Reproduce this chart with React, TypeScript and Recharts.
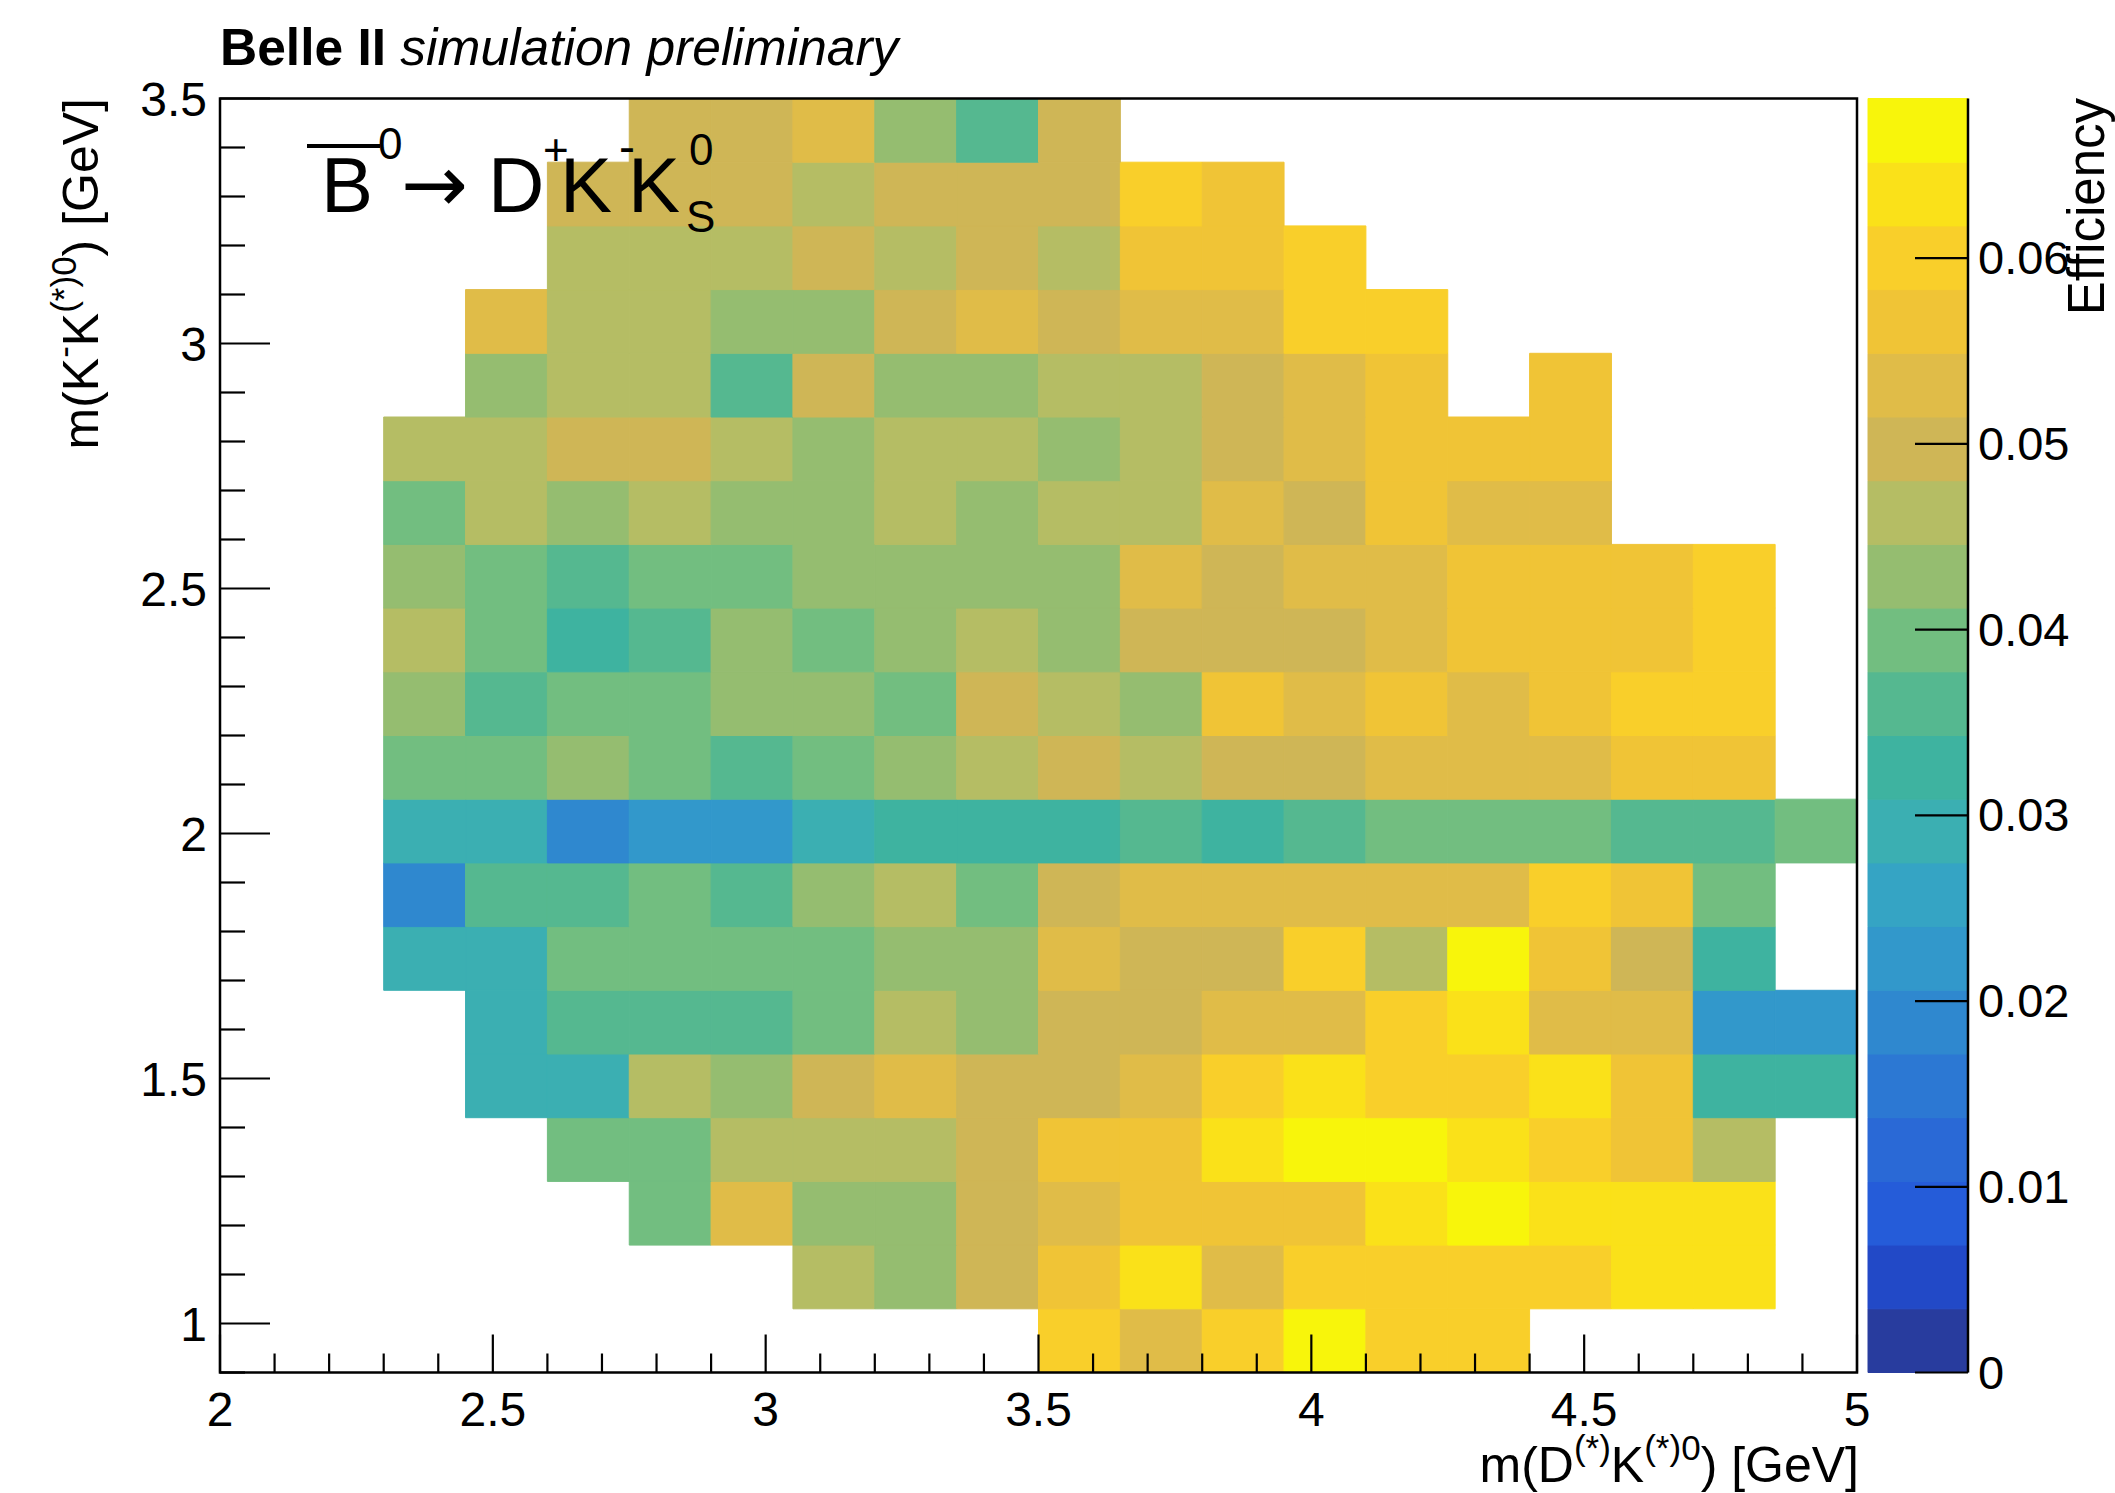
import { ComposedChart, XAxis, YAxis, ReferenceArea, Scatter } from "recharts";

const W = 2115;
const H = 1493;
const FONT = '"Liberation Sans", Arial, Helvetica, sans-serif';

// binning of the 2D histogram
const xBinLow = [2.0, 2.15, 2.3, 2.45, 2.6, 2.75, 2.9, 3.05, 3.2, 3.35, 3.5, 3.65, 3.8, 3.95, 4.1, 4.25, 4.4, 4.55, 4.7, 4.85];
const xBinWidth = 0.15;
const yBinLow = [0.9, 1.03, 1.16, 1.29, 1.42, 1.55, 1.68, 1.81, 1.94, 2.07, 2.2, 2.33, 2.46, 2.59, 2.72, 2.85, 2.98, 3.11, 3.24, 3.37];
const yBinHeight = 0.13;

const xMajorTicks = [2, 2.5, 3, 3.5, 4, 4.5, 5];
const yMajorTicks = [1, 1.5, 2, 2.5, 3, 3.5];
const zTicks = [0, 0.01, 0.02, 0.03, 0.04, 0.05, 0.06];
const zMax = 0.0686;

// efficiency per bin, one array per m(K-K(*)0) row (bottom to top), null = empty bin
const n = null;
const eff090 = [n, n, n, n, n, n, n, n, n, n, 0.06, 0.0532, 0.06, 0.0669, 0.06, 0.06, n, n, n, n];
const eff103 = [n, n, n, n, n, n, n, 0.0463, 0.0429, 0.0497, 0.0566, 0.0635, 0.0532, 0.06, 0.06, 0.06, 0.06, 0.0635, 0.0635, n];
const eff116 = [n, n, n, n, n, 0.0395, 0.0532, 0.0429, 0.0429, 0.0497, 0.0532, 0.0566, 0.0566, 0.0566, 0.0635, 0.0669, 0.0635, 0.0635, 0.0635, n];
const eff129 = [n, n, n, n, 0.0395, 0.0395, 0.0463, 0.0463, 0.0463, 0.0497, 0.0566, 0.0566, 0.0635, 0.0669, 0.0669, 0.0635, 0.06, 0.0566, 0.0463, n];
const eff142 = [n, n, n, 0.0292, 0.0292, 0.0463, 0.0429, 0.0497, 0.0532, 0.0497, 0.0497, 0.0532, 0.06, 0.0635, 0.06, 0.06, 0.0635, 0.0566, 0.0326, 0.0326];
const eff155 = [n, n, n, 0.0292, 0.036, 0.036, 0.036, 0.0395, 0.0463, 0.0429, 0.0497, 0.0497, 0.0532, 0.0532, 0.06, 0.0635, 0.0532, 0.0532, 0.0223, 0.0223];
const eff168 = [n, n, 0.0292, 0.0292, 0.0395, 0.0395, 0.0395, 0.0395, 0.0429, 0.0429, 0.0532, 0.0497, 0.0497, 0.06, 0.0463, 0.0669, 0.0566, 0.0497, 0.0326, n];
const eff181 = [n, n, 0.0189, 0.036, 0.036, 0.0395, 0.036, 0.0429, 0.0463, 0.0395, 0.0497, 0.0532, 0.0532, 0.0532, 0.0532, 0.0532, 0.06, 0.0566, 0.0395, n];
const eff194 = [n, n, 0.0292, 0.0292, 0.0189, 0.0223, 0.0223, 0.0292, 0.0326, 0.0326, 0.0326, 0.036, 0.0326, 0.036, 0.0395, 0.0395, 0.0395, 0.036, 0.036, 0.0395];
const eff207 = [n, n, 0.0395, 0.0395, 0.0429, 0.0395, 0.036, 0.0395, 0.0429, 0.0463, 0.0497, 0.0463, 0.0497, 0.0497, 0.0532, 0.0532, 0.0532, 0.0566, 0.0566, n];
const eff220 = [n, n, 0.0429, 0.036, 0.0395, 0.0395, 0.0429, 0.0429, 0.0395, 0.0497, 0.0463, 0.0429, 0.0566, 0.0532, 0.0566, 0.0532, 0.0566, 0.06, 0.06, n];
const eff233 = [n, n, 0.0463, 0.0395, 0.0326, 0.036, 0.0429, 0.0395, 0.0429, 0.0463, 0.0429, 0.0497, 0.0497, 0.0497, 0.0532, 0.0566, 0.0566, 0.0566, 0.06, n];
const eff246 = [n, n, 0.0429, 0.0395, 0.036, 0.0395, 0.0395, 0.0429, 0.0429, 0.0429, 0.0429, 0.0532, 0.0497, 0.0532, 0.0532, 0.0566, 0.0566, 0.0566, 0.06, n];
const eff259 = [n, n, 0.0395, 0.0463, 0.0429, 0.0463, 0.0429, 0.0429, 0.0463, 0.0429, 0.0463, 0.0463, 0.0532, 0.0497, 0.0566, 0.0532, 0.0532, n, n, n];
const eff272 = [n, n, 0.0463, 0.0463, 0.0497, 0.0497, 0.0463, 0.0429, 0.0463, 0.0463, 0.0429, 0.0463, 0.0497, 0.0532, 0.0566, 0.0566, 0.0566, n, n, n];
const eff285 = [n, n, n, 0.0429, 0.0463, 0.0463, 0.036, 0.0497, 0.0429, 0.0429, 0.0463, 0.0463, 0.0497, 0.0532, 0.0566, n, 0.0566, n, n, n];
const eff298 = [n, n, n, 0.0532, 0.0463, 0.0463, 0.0429, 0.0429, 0.0497, 0.0532, 0.0497, 0.0532, 0.0532, 0.06, 0.06, n, n, n, n, n];
const eff311 = [n, n, n, n, 0.0463, 0.0463, 0.0463, 0.0497, 0.0463, 0.0497, 0.0463, 0.0566, 0.0566, 0.06, n, n, n, n, n, n];
const eff324 = [n, n, n, n, 0.0497, 0.0497, 0.0497, 0.0463, 0.0497, 0.0497, 0.0497, 0.06, 0.0566, n, n, n, n, n, n, n];
const eff337 = [n, n, n, n, n, 0.0497, 0.0497, 0.0532, 0.0429, 0.036, 0.0497, n, n, n, n, n, n, n, n, n];

const effRows = [eff090, eff103, eff116, eff129, eff142, eff155, eff168, eff181, eff194, eff207,
  eff220, eff233, eff246, eff259, eff272, eff285, eff298, eff311, eff324, eff337];

// 20 contour levels of the palette, bottom (0) to top (zMax)
const palette = [
  "#283c9e", "#2249c7", "#255cd9", "#2a69d6", "#2c78d3", "#2f88cf", "#3298cb", "#35a4c4", "#3bafb2", "#3eb3a0",
  "#55b890", "#72be80", "#95bd70", "#b5bd64", "#cfb656", "#e0bc48", "#f0c436", "#f9cf2a", "#fae119", "#f8f50b",
];
const zStep = zMax / palette.length;

const colorOf = (v: number) => palette[Math.min(palette.length - 1, Math.floor(v / zStep))];

const cells = effRows.flatMap((row, j) =>
  row.flatMap((v, i) =>
    v == null
      ? []
      : [{
          x1: xBinLow[i],
          x2: xBinLow[i] + xBinWidth,
          y1: yBinLow[j],
          y2: yBinLow[j] + yBinHeight,
          cx: xBinLow[i] + xBinWidth / 2,
          cy: yBinLow[j] + yBinHeight / 2,
          v,
        }]
  )
);

const bands = palette.map((c, k) => ({ x: 0.5, y: (k + 0.5) * zStep, color: c }));

const steps = (a: number, b: number, s: number) => {
  const out: number[] = [];
  for (let k = 0; a + k * s <= b + 1e-9; k++) out.push(Math.round((a + k * s) * 100) / 100);
  return out;
};
const xTicks = steps(2, 5, 0.1);
const yTicks = steps(0.9, 3.5, 0.1);
const isMajor = (v: number, majors: number[]) => majors.some((m) => Math.abs(m - v) < 1e-6);

const noMark = () => <g />;

const XTick = (props: any) => {
  const { x, y, payload } = props;
  const major = isMajor(payload.value, xMajorTicks);
  return (
    <g>
      <line x1={x} x2={x} y1={y} y2={y - (major ? 38 : 19)} stroke="#000" strokeWidth={2.2} />
      {major && (
        <text x={x} y={y + 53} textAnchor="middle" fontSize={48} fontFamily={FONT} fill="#000">
          {String(payload.value)}
        </text>
      )}
    </g>
  );
};

const YTick = (props: any) => {
  const { x, y, payload } = props;
  const major = isMajor(payload.value, yMajorTicks);
  return (
    <g>
      <line x1={x} x2={x + (major ? 50 : 25)} y1={y} y2={y} stroke="#000" strokeWidth={2.2} />
      {major && (
        <text x={x - 13} y={y + 17} textAnchor="end" fontSize={48} fontFamily={FONT} fill="#000">
          {String(payload.value)}
        </text>
      )}
    </g>
  );
};

const ZTick = (props: any) => {
  const { x, y, payload } = props;
  return (
    <g>
      <line x1={x} x2={x - 53} y1={y} y2={y} stroke="#000" strokeWidth={2.2} />
      <text x={x + 10} y={y + 16} textAnchor="start" fontSize={47} fontFamily={FONT} fill="#000">
        {String(payload.value)}
      </text>
    </g>
  );
};

const layer: React.CSSProperties = { position: "absolute", left: 0, top: 0 };

export default function App() {
  return (
    <div style={{ position: "absolute", left: 0, top: 0, width: W, height: H, background: "#fff", overflow: "hidden" }}>
      <div style={layer}>
        <ComposedChart width={W} height={H} data={cells} margin={{ top: 98.5, right: 258, bottom: 60.5, left: 120 }}>
          <XAxis
            type="number"
            dataKey="cx"
            domain={[2, 5]}
            ticks={xTicks}
            interval={0}
            height={60}
            tickSize={0}
            tickMargin={0}
            axisLine={false}
            tickLine={false}
            tick={(p: any) => <XTick {...p} />}
            allowDataOverflow
          />
          <YAxis
            type="number"
            dataKey="cy"
            domain={[0.9, 3.5]}
            ticks={yTicks}
            interval={0}
            width={100}
            tickSize={0}
            tickMargin={0}
            axisLine={false}
            tickLine={false}
            tick={(p: any) => <YTick {...p} />}
            allowDataOverflow
          />
          <Scatter data={cells} dataKey="cy" shape={noMark} isAnimationActive={false} />
          {cells.map((c, k) => (
            <ReferenceArea
              key={k}
              x1={c.x1}
              x2={c.x2}
              y1={c.y1}
              y2={c.y2}
              fill={colorOf(c.v)}
              fillOpacity={1}
              stroke={colorOf(c.v)}
              strokeWidth={1}
              ifOverflow="visible"
            />
          ))}
          <ReferenceArea x1={2} x2={5} y1={0.9} y2={3.5} fill="none" fillOpacity={0} stroke="#000" strokeWidth={2.5} />
        </ComposedChart>
      </div>

      <div style={layer}>
        <ComposedChart width={W} height={H} data={bands} margin={{ top: 98.5, right: 47, bottom: 120.5, left: 1868 }}>
          <XAxis type="number" dataKey="x" domain={[0, 1]} hide />
          <YAxis
            orientation="right"
            type="number"
            dataKey="y"
            domain={[0, zMax]}
            ticks={zTicks}
            interval={0}
            width={100}
            tickSize={0}
            tickMargin={0}
            axisLine={{ stroke: "#000", strokeWidth: 2.5 }}
            tickLine={false}
            tick={(p: any) => <ZTick {...p} />}
            allowDataOverflow
          />
          <Scatter data={bands} dataKey="y" shape={noMark} isAnimationActive={false} />
          {bands.map((b, k) => (
            <ReferenceArea
              key={k}
              x1={0}
              x2={1}
              y1={k * zStep}
              y2={(k + 1) * zStep}
              fill={b.color}
              fillOpacity={1}
              stroke={b.color}
              strokeWidth={1}
            />
          ))}
        </ComposedChart>
      </div>

      <svg width={W} height={H} style={{ ...layer, pointerEvents: "none" }} fontFamily={FONT} fill="#000">
        <text x={220} y={65} fontSize={51.5}>
          <tspan fontWeight="bold">Belle II</tspan>
          <tspan fontStyle="italic"> simulation preliminary</tspan>
        </text>

        <text x={1859} y={1482} textAnchor="end" fontSize={50}>
          m(D<tspan dy={-22} fontSize={35}>(*)</tspan>
          <tspan dy={22}>K</tspan>
          <tspan dy={-22} fontSize={35}>(*)0</tspan>
          <tspan dy={22}>) [GeV]</tspan>
        </text>

        <text transform="rotate(-90)" x={-98} y={98} textAnchor="end" fontSize={50}>
          m(K<tspan dy={-22} fontSize={35}>-</tspan>
          <tspan dy={22}>K</tspan>
          <tspan dy={-22} fontSize={35}>(*)0</tspan>
          <tspan dy={22}>) [GeV]</tspan>
        </text>

        <text transform="rotate(-90)" x={-98} y={2104} textAnchor="end" fontSize={51}>
          Efficiency
        </text>

        <line x1={307} x2={380} y1={146} y2={146} stroke="#000" strokeWidth={4} />
        <text x={321} y={212} fontSize={78}>B</text>
        <text x={378} y={159} fontSize={44}>0</text>
        <text x={401} y={212} fontSize={80} fontFamily='"DejaVu Sans", sans-serif'>→</text>
        <text x={488} y={212} fontSize={78}>D</text>
        <text x={543} y={165} fontSize={44}>+</text>
        <text x={560} y={212} fontSize={78}>K</text>
        <text x={619} y={163} fontSize={48}>-</text>
        <text x={628} y={212} fontSize={78}>K</text>
        <text x={689} y={165} fontSize={44}>0</text>
        <text x={686} y={232} fontSize={44}>S</text>
      </svg>
    </div>
  );
}
